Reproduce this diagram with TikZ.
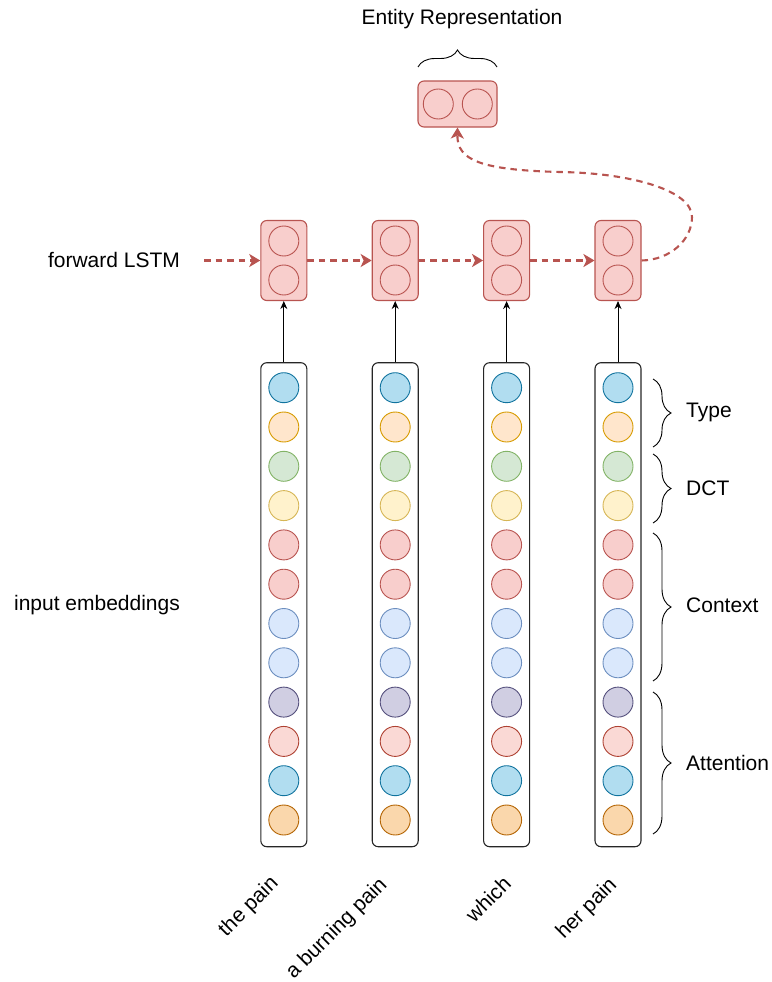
\documentclass[tikz,border=0pt]{standalone}
\usepackage{fontspec}
\setmainfont{Liberation Sans}
\usetikzlibrary{arrows.meta,decorations.pathreplacing}
\definecolor{redF}{HTML}{F8CECC}\definecolor{redS}{HTML}{B85450}
\definecolor{blueF}{HTML}{B1DDF0}\definecolor{blueS}{HTML}{10739E}
\definecolor{orF}{HTML}{FFE6CC}\definecolor{orS}{HTML}{D79B00}
\definecolor{grF}{HTML}{D5E8D4}\definecolor{grS}{HTML}{82B366}
\definecolor{yeF}{HTML}{FFF2CC}\definecolor{yeS}{HTML}{D6B656}
\definecolor{lbF}{HTML}{DAE8FC}\definecolor{lbS}{HTML}{6C8EBF}
\definecolor{puF}{HTML}{D0CEE2}\definecolor{puS}{HTML}{56517E}
\definecolor{rlF}{HTML}{FAD9D5}\definecolor{rlS}{HTML}{AE4132}
\definecolor{oaF}{HTML}{FAD7AC}\definecolor{oaS}{HTML}{B46504}
\begin{document}
\begin{tikzpicture}[x=1pt,y=-1pt,font=\fontsize{21}{25}\selectfont,
  cell/.style={circle,minimum size=30pt,inner sep=0pt,line width=0.9pt},
  lstmbox/.style={draw=redS,fill=redF,rounded corners=6pt,minimum width=46pt,minimum height=80pt,line width=1.1pt,inner sep=0pt},
  entbox/.style={draw=redS,fill=redF,rounded corners=6pt,minimum width=79pt,minimum height=46pt,line width=1.1pt,inner sep=0pt},
  embbox/.style={draw=black!85,rounded corners=6pt,minimum width=46pt,minimum height=484pt,line width=1.1pt,inner sep=0pt},
  flow/.style={draw=redS,line width=2.1pt,dash pattern=on 6.5pt off 5pt,-{Stealth[length=11pt,width=13pt,inset=3pt]}},
  uparrow/.style={draw=black,line width=0.9pt,-{Stealth[length=8pt,width=7pt]}},
  bracex/.style={decorate,decoration={brace,amplitude=#1},line width=0.9pt},
  lbl/.style={inner sep=0pt}]
\useasboundingbox (0,0) rectangle (771,982);

% entity representation
\node[lbl] (entlbl) at (462,19) {Entity Representation};
\node[entbox] (ent) at (457.5,104) {};
\node[cell,draw=redS,fill=redF] (ent1) at (438.3,104) {};
\node[cell,draw=redS,fill=redF] (ent2) at (477.3,104) {};
\draw[bracex=17pt] (418,67) -- (497,67);

% columns
\foreach \i/\x in {1/283.8,2/395.2,3/506.6,4/618.0}{
  \node[lstmbox] (l\i) at (\x,260.5) {};
  \node[cell,draw=redS,fill=redF] (l\i a) at (\x,241) {};
  \node[cell,draw=redS,fill=redF] (l\i b) at (\x,280) {};
  \node[embbox] (e\i) at (\x,604.7) {};
  \foreach \k/\f/\s in {0/blueF/blueS,1/orF/orS,2/grF/grS,3/yeF/yeS,4/redF/redS,5/redF/redS,6/lbF/lbS,7/lbF/lbS,8/puF/puS,9/rlF/rlS,10/blueF/blueS,11/oaF/oaS}{
    \node[cell,draw=\s,fill=\f] (e\i c\k) at (\x,387.7+39.3*\k) {};
  }
  \draw[uparrow] (e\i.north) -- (l\i.south);
}

% LSTM flow
\node[lbl] (fwd) at (114,260) {forward LSTM};
\coordinate (fstart) at (204,260.5);
\draw[flow] (fstart) -- (l1.west);
\draw[flow] (l1.east) -- (l2.west);
\draw[flow] (l2.east) -- (l3.west);
\draw[flow] (l3.east) -- (l4.west);
\coordinate (c1) at (692,217);
\coordinate (c2) at (560,172);
\draw[flow] (l4.east) .. controls (670,260) and (692,240) .. (c1)
  .. controls (692,190) and (630,173) .. (c2)
  .. controls (480,170) and (457,160) .. (ent.south);

% labels
\node[lbl] (inemb) at (97,605) {input embeddings};
\draw[bracex=18pt] (653,379) -- (653,447);
\draw[bracex=18pt] (653,454) -- (653,523);
\draw[bracex=18pt] (653,533) -- (653,681);
\draw[bracex=18pt] (653,692) -- (653,834);
\node[lbl,anchor=west] (ttype) at (686,412) {Type};
\node[lbl,anchor=west] (tdct) at (686,488) {DCT};
\node[lbl,anchor=west] (tctx) at (686,605) {Context};
\node[lbl,anchor=west] (tatt) at (686,763) {Attention};

\node[lbl,rotate=45] (w1) at (249,907) {the pain};
\node[lbl,rotate=45] (w2) at (337,929) {a burning pain};
\node[lbl,rotate=45] (w3) at (488,899) {which};
\node[lbl,rotate=45] (w4) at (587,909) {her pain};
\end{tikzpicture}
\end{document}
